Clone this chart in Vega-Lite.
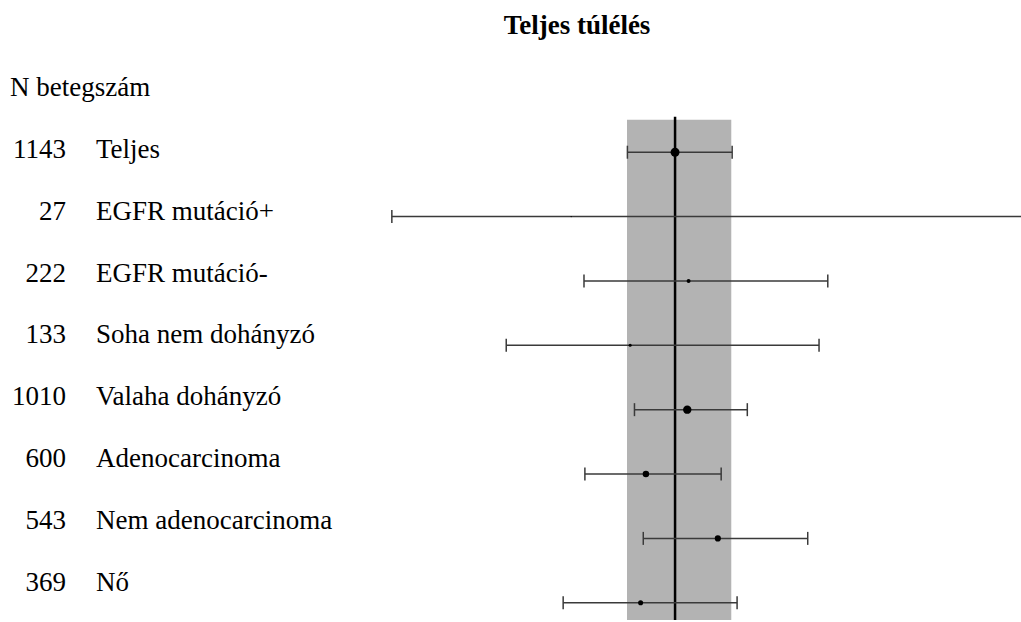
{
  "$schema": "https://vega.github.io/schema/vega-lite/v6.json",
  "width": 1021,
  "height": 622,
  "autosize": {"type": "fit", "contains": "padding"},
  "padding": 0,
  "background": "white",
  "config": {"view": {"stroke": null}},
  "datasets": {
    "rows": [
      {"row": 1, "n": 1143, "label": "Teljes", "hr": 1.0, "lo": 0.871, "hi": 1.18},
      {"row": 2, "n": 27, "label": "EGFR mutáció+", "hr": 0.74, "lo": 0.44, "hi": 3.2},
      {"row": 3, "n": 222, "label": "EGFR mutáció-", "hr": 1.04, "lo": 0.768, "hi": 1.557},
      {"row": 4, "n": 133, "label": "Soha nem dohányzó", "hr": 0.878, "lo": 0.613, "hi": 1.518},
      {"row": 5, "n": 1010, "label": "Valaha dohányzó", "hr": 1.036, "lo": 0.889, "hi": 1.233},
      {"row": 6, "n": 600, "label": "Adenocarcinoma", "hr": 0.919, "lo": 0.77, "hi": 1.143},
      {"row": 7, "n": 543, "label": "Nem adenocarcinoma", "hr": 1.132, "lo": 0.912, "hi": 1.469},
      {"row": 8, "n": 369, "label": "Nő", "hr": 0.905, "lo": 0.723, "hi": 1.197}
    ],
    "one": [{"k": 1}]
  },
  "layer": [
    {
      "layer": [
        {
          "data": {"name": "one"},
          "mark": {"type": "rect", "color": "#b3b3b3"},
          "encoding": {
            "x": {"datum": 0.87, "type": "quantitative", "axis": null,
                  "scale": {"type": "log", "domain": [0.1413, 2.726], "nice": false}},
            "x2": {"datum": 1.177},
            "y": {"datum": 0.495, "type": "quantitative", "axis": null,
                  "scale": {"domain": [-1.365, 8.268], "reverse": true, "zero": false, "nice": false}},
            "y2": {"datum": 8.268}
          }
        },
        {
          "data": {"name": "one"},
          "mark": {"type": "rule", "color": "black", "strokeWidth": 2.5},
          "encoding": {
            "x": {"datum": 1, "type": "quantitative"},
            "y": {"datum": 0.449, "type": "quantitative"},
            "y2": {"datum": 8.268}
          }
        },
        {
          "data": {"name": "rows"},
          "mark": {"type": "rule", "color": "#3a3a3a", "strokeWidth": 1.5, "clip": true},
          "encoding": {
            "x": {"field": "lo", "type": "quantitative"},
            "x2": {"field": "hi"},
            "y": {"field": "row", "type": "quantitative"}
          }
        },
        {
          "data": {"name": "rows"},
          "mark": {"type": "tick", "orient": "vertical", "color": "#3a3a3a", "size": 13, "thickness": 1.5, "clip": true, "opacity": 1},
          "encoding": {
            "x": {"field": "lo", "type": "quantitative"},
            "y": {"field": "row", "type": "quantitative"}
          }
        },
        {
          "data": {"name": "rows"},
          "mark": {"type": "tick", "orient": "vertical", "color": "#3a3a3a", "size": 13, "thickness": 1.5, "clip": true, "opacity": 1},
          "encoding": {
            "x": {"field": "hi", "type": "quantitative"},
            "y": {"field": "row", "type": "quantitative"}
          }
        },
        {
          "data": {"name": "rows"},
          "mark": {"type": "circle", "color": "black", "opacity": 1},
          "encoding": {
            "x": {"field": "hr", "type": "quantitative"},
            "y": {"field": "row", "type": "quantitative"},
            "size": {"field": "n", "type": "quantitative", "legend": null,
                     "scale": {"domain": [0, 1143], "range": [0, 80], "zero": true}}
          }
        }
      ]
    },
    {
      "layer": [
        {
          "data": {"name": "rows"},
          "mark": {"type": "text", "font": "Liberation Serif", "fontSize": 27, "align": "right", "baseline": "alphabetic", "color": "black"},
          "encoding": {
            "x": {"datum": 66, "type": "quantitative", "axis": null,
                  "scale": {"domain": [0, 1021], "nice": false, "zero": false}},
            "y": {"field": "row", "type": "quantitative", "axis": null,
                  "scale": {"domain": [-1.55, 8.471], "reverse": true, "zero": false, "nice": false}},
            "text": {"field": "n", "type": "quantitative", "format": "d"}
          }
        },
        {
          "data": {"name": "rows"},
          "mark": {"type": "text", "font": "Liberation Serif", "fontSize": 27, "align": "left", "baseline": "alphabetic", "color": "black"},
          "encoding": {
            "x": {"datum": 96, "type": "quantitative"},
            "y": {"field": "row", "type": "quantitative"},
            "text": {"field": "label", "type": "nominal"}
          }
        },
        {
          "data": {"name": "one"},
          "mark": {"type": "text", "font": "Liberation Serif", "fontSize": 27, "align": "left", "baseline": "alphabetic", "color": "black"},
          "encoding": {
            "x": {"datum": 10, "type": "quantitative"},
            "y": {"datum": 0, "type": "quantitative"},
            "text": {"value": "N betegszám"}
          }
        },
        {
          "data": {"name": "one"},
          "mark": {"type": "text", "font": "Liberation Serif", "fontSize": 27, "fontWeight": "bold", "align": "center", "baseline": "alphabetic", "color": "black"},
          "encoding": {
            "x": {"datum": 577, "type": "quantitative"},
            "y": {"datum": -1, "type": "quantitative"},
            "text": {"value": "Teljes túlélés"}
          }
        }
      ]
    }
  ],
  "resolve": {"scale": {"x": "independent", "y": "independent"}}
}
